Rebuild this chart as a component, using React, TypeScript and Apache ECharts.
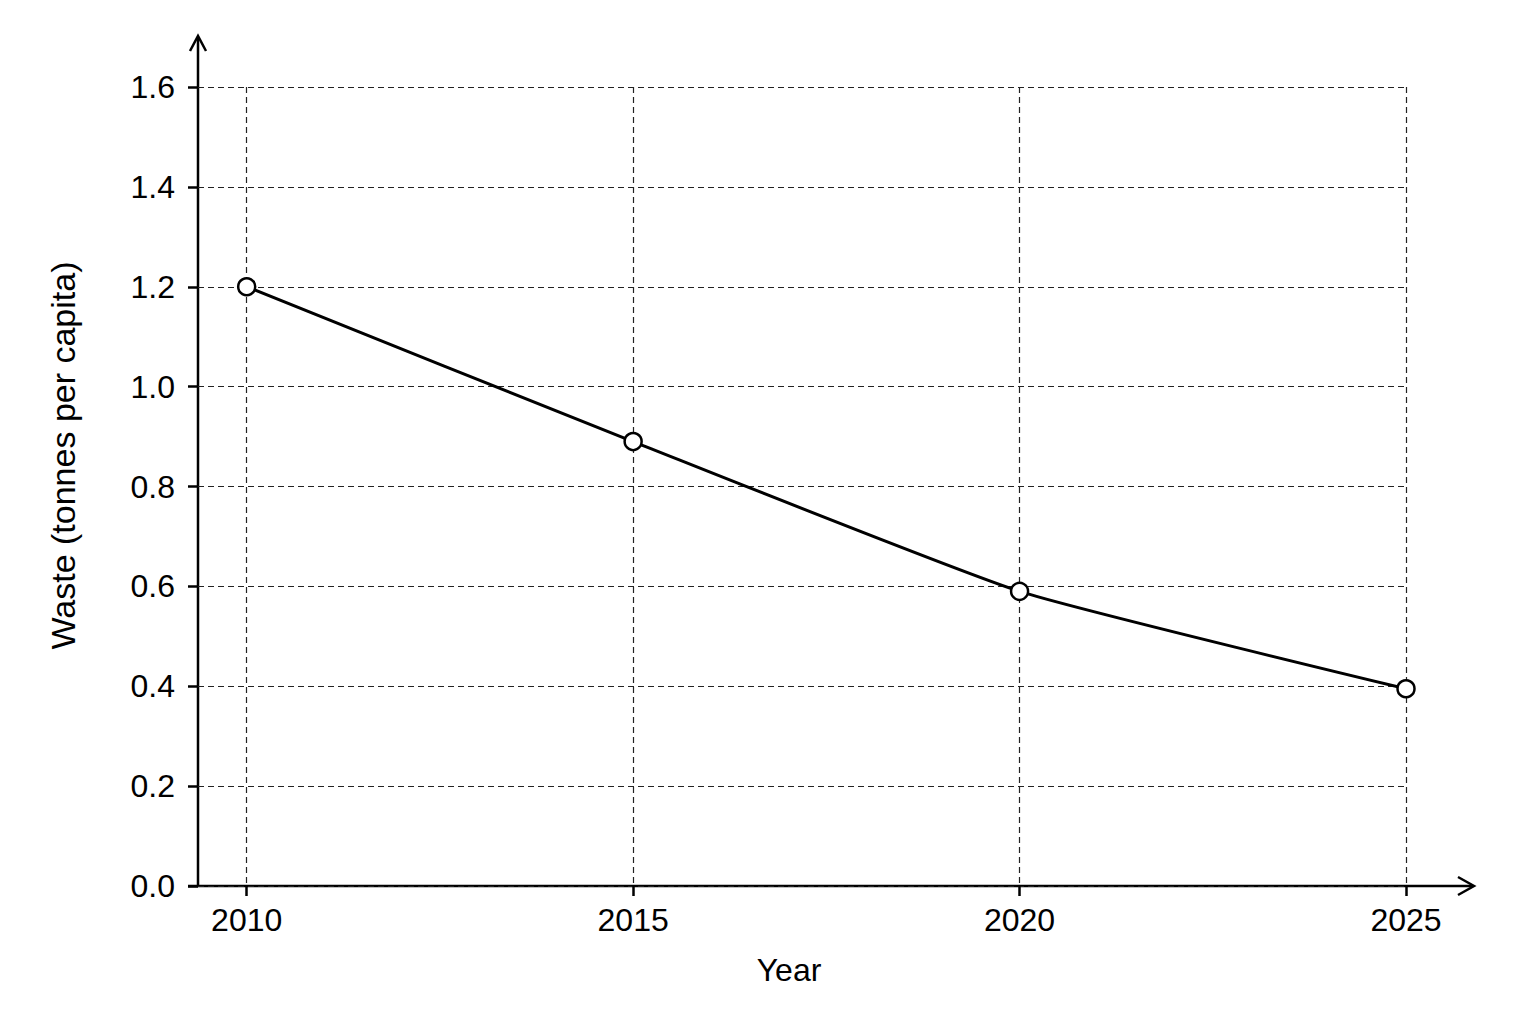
import React, { useEffect, useRef } from 'react';
import * as echarts from 'echarts';

const years = [2010, 2015, 2020, 2025];
const waste = [1.2, 0.89, 0.59, 0.395];

const FONT = '"Liberation Sans", Arial, Helvetica, sans-serif';

// plot box in page pixels
const LEFT = 198;
const RIGHT = 1406;
const TOP = 87;
const BOTTOM = 886;

export default function App() {
  const chartRef = useRef<HTMLDivElement>(null);

  useEffect(() => {
    document.body.style.margin = '0';
    const chart = echarts.init(chartRef.current, null, { renderer: 'svg' });

    const axisStyle = { color: '#000', width: 2.5 };
    const gridStyle = { color: '#222', width: 1.2, type: [6, 4] };

    const option = {
      animation: false,
      backgroundColor: '#fff',
      grid: {
        left: LEFT,
        right: 1536 - RIGHT,
        top: TOP,
        bottom: 1024 - BOTTOM,
        containLabel: false,
      },
      xAxis: {
        type: 'value',
        min: 2009.37,
        max: 2025,
        name: 'Year',
        nameLocation: 'middle',
        nameGap: 68,
        nameTextStyle: {
          fontFamily: FONT,
          fontSize: 32,
          color: '#000',
          padding: [0, 26, 0, 0],
        },
        axisLine: { show: false },
        axisTick: {
          show: true,
          length: 10,
          customValues: years,
          lineStyle: axisStyle,
        },
        axisLabel: {
          customValues: years,
          margin: 18,
          fontFamily: FONT,
          fontSize: 32,
          color: '#000',
          formatter: (v: number) => String(v),
        },
        splitLine: { show: true, lineStyle: gridStyle },
      },
      yAxis: {
        type: 'value',
        min: 0,
        max: 1.6,
        interval: 0.2,
        name: 'Waste (tonnes per capita)',
        nameLocation: 'middle',
        nameGap: 118,
        nameRotate: 90,
        nameTextStyle: {
          fontFamily: FONT,
          fontSize: 34,
          color: '#000',
          padding: [0, 0, 0, 62],
        },
        axisLine: { show: false },
        axisTick: { show: true, length: 10, lineStyle: axisStyle },
        axisLabel: {
          margin: 23,
          fontFamily: FONT,
          fontSize: 32,
          color: '#000',
          formatter: (v: number) => v.toFixed(1),
        },
        splitLine: { show: true, lineStyle: gridStyle },
      },
      graphic: [
        {
          type: 'line',
          shape: { x1: LEFT, y1: BOTTOM, x2: LEFT, y2: 37 },
          style: { stroke: '#000', lineWidth: 2.5 },
        },
        {
          type: 'polyline',
          shape: { points: [[190, 51], [LEFT, 36], [206, 51]] },
          style: { stroke: '#000', lineWidth: 2.5, fill: 'none' },
        },
        {
          type: 'line',
          shape: { x1: LEFT - 10, y1: BOTTOM, x2: 1473, y2: BOTTOM },
          style: { stroke: '#000', lineWidth: 2.5 },
        },
        {
          type: 'polyline',
          shape: { points: [[1458, BOTTOM - 9], [1474, BOTTOM], [1458, BOTTOM + 9]] },
          style: { stroke: '#000', lineWidth: 2.5, fill: 'none' },
        },
      ],
      series: [
        {
          type: 'line',
          data: years.map((y, i) => [y, waste[i]]),
          smooth: 0.15,
          symbol: 'circle',
          symbolSize: 17,
          lineStyle: { color: '#000', width: 3 },
          itemStyle: { color: '#fff', borderColor: '#000', borderWidth: 2.5 },
          z: 5,
        },
      ],
    };

    chart.setOption(option);

    return () => {
      chart.dispose();
    };
  }, []);

  return <div ref={chartRef} style={{ width: 1536, height: 1024 }} />;
}
